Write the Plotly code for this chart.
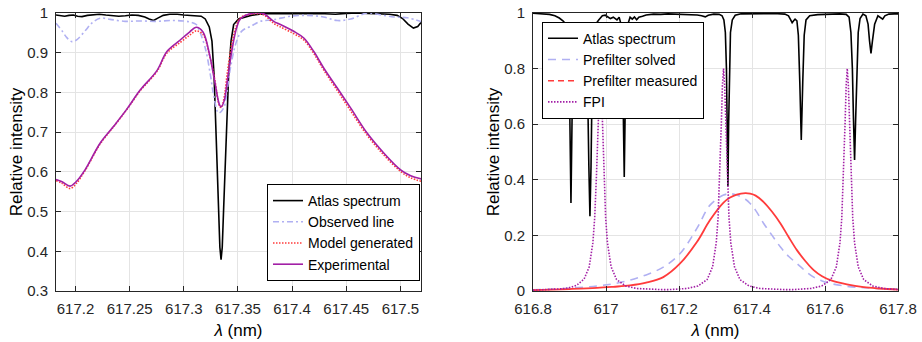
import plotly.graph_objects as go

# ---------------- Left panel data ----------------
lam_atlas_L = [617.182, 617.186, 617.190, 617.194, 617.198, 617.202, 617.206, 617.211, 617.216, 617.222,
               617.228, 617.234, 617.240, 617.246, 617.252, 617.258, 617.264, 617.268, 617.272, 617.276,
               617.281, 617.287, 617.294, 617.300, 617.306, 617.312, 617.316, 617.3198, 617.3235, 617.326,
               617.3279, 617.330, 617.3319, 617.3333, 617.3344, 617.3355, 617.3368, 617.339, 617.3414, 617.3436,
               617.346, 617.3506, 617.356, 617.362, 617.370, 617.380, 617.390, 617.400, 617.410, 617.420,
               617.430, 617.440, 617.450, 617.460, 617.470, 617.480, 617.490, 617.497, 617.502, 617.507,
               617.512, 617.516, 617.519]
atlas_L = [0.995, 0.993, 0.992, 0.994, 0.995, 0.992, 0.991, 0.994, 0.996, 0.997,
           0.995, 0.993, 0.992, 0.993, 0.995, 0.994, 0.990, 0.985, 0.981, 0.987,
           0.994, 0.997, 0.997, 0.995, 0.994, 0.994, 0.992, 0.985, 0.965, 0.929,
           0.845, 0.678, 0.509, 0.410, 0.379, 0.410, 0.509, 0.678, 0.845, 0.929,
           0.971, 0.985, 0.990, 0.994, 0.997, 0.999, 0.998, 0.999, 0.998, 0.999,
           0.998, 0.997, 0.999, 1.000, 0.999, 0.998, 0.997, 0.994, 0.986, 0.972,
           0.962, 0.966, 0.976]

lam_obs = [617.182, 617.1876, 617.192, 617.1965, 617.2014, 617.2088, 617.2153, 617.2227, 617.232, 617.2458,
           617.2597, 617.2736, 617.2875, 617.2995, 617.306, 617.3115, 617.3134, 617.3198, 617.3245, 617.3275,
           617.3321, 617.3368, 617.3399, 617.3430, 617.3485, 617.3538, 617.3615, 617.3707, 617.3827, 617.3985,
           617.4139, 617.4290, 617.4417, 617.4540, 617.4694, 617.4820, 617.4940, 617.5064, 617.5196]
obs = [0.974, 0.955, 0.938, 0.928, 0.933, 0.955, 0.975, 0.987, 0.984, 0.979,
       0.980, 0.979, 0.981, 0.980, 0.977, 0.971, 0.962, 0.912, 0.845, 0.794,
       0.748, 0.761, 0.803, 0.861, 0.927, 0.955, 0.966, 0.979, 0.983, 0.992,
       0.994, 0.990, 0.981, 0.985, 1.000, 0.995, 0.990, 0.988, 0.978]

lam_fit = [617.182, 617.1876, 617.195, 617.2005, 617.2088, 617.2227, 617.235, 617.2474, 617.2597, 617.2752,
           617.2844, 617.2967, 617.3053, 617.3115, 617.3177, 617.3238, 617.3284, 617.3331, 617.3346, 617.3374,
           617.3402, 617.3445, 617.3485, 617.3522, 617.3645, 617.3738, 617.383, 617.3892, 617.4015, 617.4108,
           617.42, 617.4293, 617.4417, 617.454, 617.4694, 617.4848, 617.5002, 617.5095, 617.5196]
model = [0.578, 0.571, 0.558, 0.570, 0.603, 0.670, 0.713, 0.757, 0.804, 0.853,
         0.899, 0.926, 0.944, 0.955, 0.946, 0.893, 0.835, 0.765, 0.762, 0.790,
         0.850, 0.925, 0.968, 0.988, 0.998, 0.995, 0.974, 0.965, 0.948, 0.932,
         0.898, 0.856, 0.805, 0.754, 0.692, 0.642, 0.601, 0.585, 0.576]
experimental = [0.581, 0.575, 0.564, 0.575, 0.605, 0.672, 0.714, 0.758, 0.806, 0.855,
                0.903, 0.932, 0.952, 0.964, 0.952, 0.895, 0.830, 0.768, 0.764, 0.780,
                0.830, 0.907, 0.960, 0.985, 1.000, 0.998, 0.979, 0.971, 0.954, 0.937,
                0.903, 0.861, 0.811, 0.761, 0.697, 0.647, 0.605, 0.590, 0.582]

# ---------------- Right panel data ----------------
lam_atlas_R = [616.800, 616.815, 616.830, 616.845, 616.860, 616.872, 616.882, 616.890, 616.895, 616.898,
               616.901, 616.904, 616.907, 616.910, 616.914, 616.920, 616.930, 616.940, 616.946, 616.950,
               616.953, 616.956, 616.959, 616.962, 616.966, 616.972, 616.980, 616.990, 616.998, 617.005,
               617.012, 617.020, 617.030, 617.036, 617.041, 617.045, 617.048, 617.050, 617.052, 617.055,
               617.060, 617.066, 617.072, 617.078, 617.084, 617.090, 617.100, 617.110, 617.130, 617.150,
               617.170, 617.190, 617.210, 617.230, 617.250, 617.262, 617.272, 617.280, 617.295, 617.310,
               617.318, 617.323, 617.327, 617.330, 617.332, 617.334, 617.336, 617.338, 617.341, 617.346,
               617.354, 617.370, 617.400, 617.430, 617.460, 617.490, 617.500, 617.506, 617.510, 617.514,
               617.518, 617.523, 617.527, 617.531, 617.535, 617.539, 617.543, 617.548, 617.558, 617.580,
               617.610, 617.640, 617.658, 617.666, 617.671, 617.675, 617.678, 617.681, 617.684, 617.687,
               617.691, 617.696, 617.704, 617.712, 617.718, 617.722, 617.726, 617.730, 617.736, 617.745,
               617.752, 617.758, 617.764, 617.775, 617.790, 617.800]
atlas_R = [0.999, 0.998, 0.997, 0.995, 0.990, 0.982, 0.972, 0.960, 0.930, 0.850,
           0.620, 0.317, 0.620, 0.850, 0.930, 0.950, 0.940, 0.920, 0.850, 0.700,
           0.450, 0.269, 0.450, 0.750, 0.900, 0.960, 0.975, 0.990, 0.992, 0.985,
           0.980, 0.985, 0.975, 0.985, 0.960, 0.850, 0.600, 0.410, 0.600, 0.850,
           0.960, 0.985, 0.978, 0.986, 0.976, 0.985, 0.988, 0.993, 0.996, 0.995,
           0.997, 0.996, 0.996, 0.995, 0.993, 0.990, 0.986, 0.992, 0.996, 0.995,
           0.990, 0.975, 0.930, 0.800, 0.600, 0.377, 0.600, 0.800, 0.930, 0.975,
           0.992, 0.997, 0.998, 0.997, 0.998, 0.996, 0.990, 0.975, 0.965, 0.972,
           0.978, 0.972, 0.920, 0.750, 0.543, 0.750, 0.920, 0.975, 0.990, 0.994,
           0.996, 0.997, 0.995, 0.985, 0.930, 0.800, 0.620, 0.471, 0.620, 0.800,
           0.930, 0.980, 0.996, 0.990, 0.960, 0.900, 0.855, 0.900, 0.960, 0.990,
           0.985, 0.978, 0.990, 0.996, 0.997, 0.997]

lam_pref = [616.800, 616.900, 616.975, 617.020, 617.066, 617.110, 617.157, 617.203, 617.249, 617.285,
            617.322, 617.340, 617.358, 617.382, 617.395, 617.410, 617.432, 617.455, 617.478, 617.500,
            617.523, 617.546, 617.569, 617.592, 617.615, 617.660, 617.706, 617.750, 617.800]
pref_solved = [0.004, 0.010, 0.018, 0.026, 0.039, 0.058, 0.086, 0.135, 0.225, 0.309,
               0.345, 0.350, 0.345, 0.330, 0.315, 0.290, 0.243, 0.200, 0.158, 0.125,
               0.099, 0.072, 0.050, 0.036, 0.027, 0.017, 0.012, 0.009, 0.008]
pref_measured = [0.003, 0.007, 0.011, 0.015, 0.020, 0.030, 0.050, 0.099, 0.176, 0.255,
                 0.318, 0.336, 0.347, 0.352, 0.350, 0.343, 0.320, 0.285, 0.243, 0.195,
                 0.147, 0.108, 0.075, 0.053, 0.039, 0.024, 0.014, 0.009, 0.005]

lam_fpi = [616.800, 616.850, 616.880, 616.900, 616.920, 616.940, 616.954, 616.964, 616.969, 616.974,
           616.978, 616.981, 616.984, 616.987, 616.990, 616.994, 616.999, 617.004, 617.014, 617.029,
           617.054, 617.084, 617.134, 617.153, 617.172, 617.222, 617.252, 617.277, 617.292, 617.302,
           617.307, 617.312, 617.316, 617.319, 617.322, 617.325, 617.328, 617.332, 617.337, 617.342,
           617.352, 617.367, 617.392, 617.422, 617.472, 617.490, 617.511, 617.561, 617.591, 617.616,
           617.631, 617.641, 617.646, 617.651, 617.655, 617.658, 617.661, 617.664, 617.667, 617.671,
           617.676, 617.681, 617.691, 617.706, 617.731, 617.761, 617.800]
fpi = [0.003, 0.005, 0.008, 0.012, 0.021, 0.043, 0.087, 0.173, 0.263, 0.420,
       0.603, 0.740, 0.800, 0.740, 0.603, 0.420, 0.263, 0.173, 0.087, 0.041,
       0.018, 0.009, 0.005, 0.005, 0.005, 0.009, 0.018, 0.041, 0.087, 0.173,
       0.263, 0.420, 0.603, 0.740, 0.800, 0.740, 0.603, 0.420, 0.263, 0.173,
       0.087, 0.041, 0.018, 0.009, 0.005, 0.005, 0.005, 0.009, 0.018, 0.041,
       0.087, 0.173, 0.263, 0.420, 0.603, 0.740, 0.800, 0.740, 0.603, 0.420,
       0.263, 0.173, 0.087, 0.041, 0.018, 0.009, 0.005]

xticks_L = [617.2, 617.25, 617.3, 617.35, 617.4, 617.45, 617.5]
xticklabels_L = ["617.2", "617.25", "617.3", "617.35", "617.4", "617.45", "617.5"]
yticks_L = [0.3, 0.4, 0.5, 0.6, 0.7, 0.8, 0.9, 1.0]
yticklabels_L = ["0.3", "0.4", "0.5", "0.6", "0.7", "0.8", "0.9", "1"]
xticks_R = [616.8, 617.0, 617.2, 617.4, 617.6, 617.8]
xticklabels_R = ["616.8", "617", "617.2", "617.4", "617.6", "617.8"]
yticks_R = [0, 0.2, 0.4, 0.6, 0.8, 1.0]
yticklabels_R = ["0", "0.2", "0.4", "0.6", "0.8", "1"]

BLACK = "#000000"
LAV = "#b0b0f2"
RED = "#ff3b3b"
PURPLE = "#a21fa6"
FONT = "Liberation Sans, Arial, sans-serif"

# the page body margin is removed by a post script, so page pixels == figure pixels
W, H = 922, 342


def px_x(p):
    return p / W


def px_y(p):
    return 1 - p / H


fig = go.Figure()
# left
fig.add_trace(go.Scatter(x=lam_atlas_L, y=atlas_L, mode="lines", name="Atlas spectrum",
                         line=dict(color=BLACK, width=1.6), xaxis="x", yaxis="y", legend="legend"))
fig.add_trace(go.Scatter(x=lam_obs, y=obs, mode="lines", name="Observed line",
                         line=dict(color=LAV, width=1.6, dash="6px,3px,2px,3px", shape="spline"),
                         xaxis="x", yaxis="y", legend="legend"))
fig.add_trace(go.Scatter(x=lam_fit, y=model, mode="lines", name="Model generated",
                         line=dict(color=RED, width=1.6, dash="1.5px,1.5px", shape="spline"),
                         xaxis="x", yaxis="y", legend="legend"))
fig.add_trace(go.Scatter(x=lam_fit, y=experimental, mode="lines", name="Experimental",
                         line=dict(color=PURPLE, width=1.6, shape="spline"),
                         xaxis="x", yaxis="y", legend="legend"))
# right
fig.add_trace(go.Scatter(x=lam_atlas_R, y=atlas_R, mode="lines", name="Atlas spectrum",
                         line=dict(color=BLACK, width=1.6), xaxis="x2", yaxis="y2", legend="legend2"))
fig.add_trace(go.Scatter(x=lam_pref, y=pref_solved, mode="lines", name="Prefilter solved",
                         line=dict(color=LAV, width=1.6, dash="8px,6px", shape="spline"),
                         xaxis="x2", yaxis="y2", legend="legend2"))
fig.add_trace(go.Scatter(x=lam_pref, y=pref_measured, mode="lines", name="Prefilter measured",
                         line=dict(color=RED, width=1.8, shape="spline"), showlegend=False,
                         xaxis="x2", yaxis="y2", legend="legend2"))
fig.add_trace(go.Scatter(x=[None], y=[None], mode="lines", name="Prefilter measured",
                         line=dict(color=RED, width=1.6, dash="6px,4px"),
                         xaxis="x2", yaxis="y2", legend="legend2"))
fig.add_trace(go.Scatter(x=lam_fpi, y=fpi, mode="lines", name="FPI",
                         line=dict(color=PURPLE, width=1.6, dash="1.5px,1.5px"),
                         xaxis="x2", yaxis="y2", legend="legend2"))

axis_common = dict(showline=True, linecolor="#262626", linewidth=1, mirror="ticks",
                   ticks="inside", ticklen=5, tickcolor="#262626", tickwidth=1,
                   showgrid=True, gridcolor="#e4e4e4", gridwidth=1, zeroline=False,
                   ticklabeloverflow="allow", ticklabelstandoff=4,
                   tickfont=dict(family=FONT, size=15, color="#262626"), automargin=False)

title_font = dict(size=17, family=FONT, color="#000000")
ydom = [px_y(291), px_y(13)]
fig.update_layout(
    width=W, height=H, margin=dict(l=0, r=0, t=0, b=0),
    paper_bgcolor="white", plot_bgcolor="white",
    font=dict(family=FONT, size=14, color="#000000"),
    xaxis=dict(domain=[px_x(56), px_x(421)], range=[617.182, 617.519], anchor="y",
               tickvals=xticks_L, ticktext=xticklabels_L,
               title=dict(text="<i>λ</i> (nm)", font=title_font, standoff=8),
               **axis_common),
    yaxis=dict(domain=ydom, range=[0.3, 1.0], anchor="x",
               tickvals=yticks_L, ticktext=yticklabels_L,
               title=dict(text="Relative intensity", font=title_font, standoff=0),
               **axis_common),
    xaxis2=dict(domain=[px_x(533), px_x(898)], range=[616.8, 617.8], anchor="y2",
                tickvals=xticks_R, ticktext=xticklabels_R,
                title=dict(text="<i>λ</i> (nm)", font=title_font, standoff=8),
                **axis_common),
    yaxis2=dict(domain=ydom, range=[0, 1.0], anchor="x2",
                tickvals=yticks_R, ticktext=yticklabels_R,
                title=dict(text="Relative intensity", font=title_font, standoff=0),
                **axis_common),
    legend=dict(x=px_x(420), y=px_y(281), xanchor="right", yanchor="bottom",
                xref="paper", yref="paper",
                bgcolor="white", bordercolor="#000000", borderwidth=1,
                font=dict(family=FONT, size=14, color="#000000"), itemwidth=30,
                tracegroupgap=0),
    legend2=dict(x=px_x(542), y=px_y(21.7), xanchor="left", yanchor="top",
                 xref="paper", yref="paper",
                 bgcolor="white", bordercolor="#000000", borderwidth=1,
                 font=dict(family=FONT, size=14, color="#000000"), itemwidth=30,
                 tracegroupgap=0),
)

fig.write_html("out.html", config={"displayModeBar": False},
               post_script="document.body.style.margin='0';document.body.style.overflow='hidden';")
